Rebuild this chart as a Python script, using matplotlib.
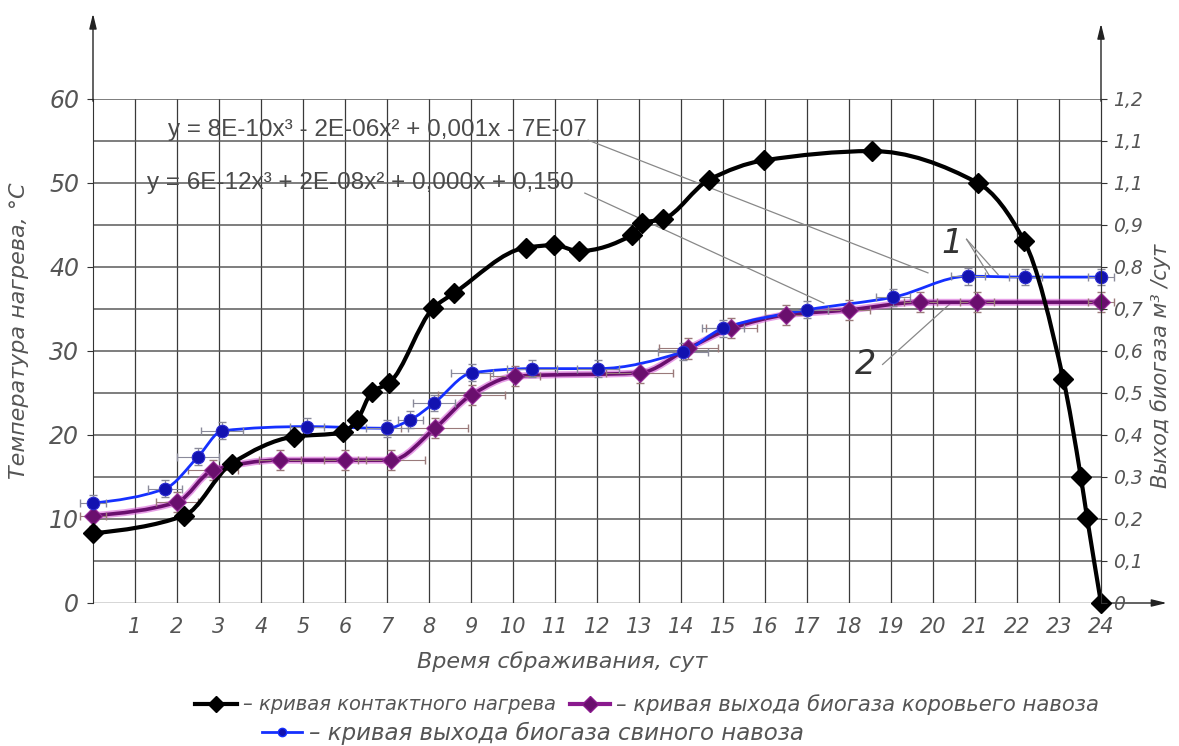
import numpy as np
import matplotlib
matplotlib.use('Agg')
import matplotlib.pyplot as plt
from matplotlib.path import Path
from matplotlib.patches import PathPatch
from matplotlib.lines import Line2D

# ---------------- data ----------------
heat_x = [0, 2.17, 3.3, 4.78, 5.95, 6.29, 6.64, 7.05, 8.1, 8.6, 10.3, 10.98, 11.57,
          12.83, 13.07, 13.57, 14.67, 15.98, 18.55, 21.07, 22.17, 23.1, 23.52, 23.67, 24]
heat_y = [8.3, 10.4, 16.6, 19.8, 20.3, 21.8, 25.1, 26.2, 35.1, 36.9, 42.3, 42.6, 41.9,
          43.8, 45.2, 45.7, 50.4, 52.7, 53.8, 50.0, 43.1, 26.7, 15.0, 10.1, 0]

cow_x = [0, 2.0, 2.86, 4.45, 6.0, 7.1, 8.14, 9.02, 10.05, 13.02, 14.17, 15.2, 16.5,
         18.0, 19.7, 21.05, 24]
cow_y = [10.4, 12.0, 15.8, 17.0, 17.0, 17.0, 20.8, 24.8, 27.0, 27.4, 30.3, 32.7, 34.3,
         34.9, 35.8, 35.8, 35.8]
cow_xerr = [0.3, 0.5, 0.6, 0.5, 0.5, 0.8, 0.8, 0.8, 0.6, 0.8, 0.7, 0.6, 0.5,
            0.5, 0.4, 0.4, 0.3]
cow_yerr = [1.2] * len(cow_x)

pig_x = [0, 1.71, 2.5, 3.08, 5.1, 7.0, 7.55, 8.12, 9.02, 10.45, 12.02, 14.05, 15.0,
         17.0, 19.05, 20.83, 22.2, 24]
pig_y = [11.9, 13.6, 17.4, 20.5, 21.0, 20.8, 21.8, 23.8, 27.4, 27.9, 27.9, 29.9, 32.7,
         34.9, 36.4, 38.9, 38.8, 38.8]
pig_xerr = [0.3, 0.4, 0.5, 0.5, 0.4, 0.5, 0.3, 0.5, 0.5, 0.6, 0.5, 0.6, 0.5,
            0.5, 0.4, 0.4, 0.4, 0.3]
pig_yerr = [1.0] * len(pig_x)

x_ticks = list(range(1, 25))
left_ticks = [0, 10, 20, 30, 40, 50, 60]
right_ticks = [0, 0.1, 0.2, 0.3, 0.4, 0.5, 0.6, 0.7, 0.8, 0.9, 1.0, 1.1, 1.2]
right_labels = ['0', '0,1', '0,2', '0,3', '0,4', '0,5', '0,6', '0,7', '0,8', '0,9',
                '1,1', '1,1', '1,2']

eq1 = 'y = 8E-10x³ - 2E-06x² + 0,001x - 7E-07'
eq2 = 'y = 6E-12x³ + 2E-08x² + 0,000x + 0,150'

leg_heat = '– кривая контактного нагрева'
leg_cow = '– кривая выхода биогаза коровьего навоза'
leg_pig = '– кривая выхода биогаза свиного навоза'

# ---------------- helpers ----------------
def smooth_path(x, y):
    x = np.asarray(x, float)
    y = np.asarray(y, float)
    n = len(x)
    h = np.diff(x)
    delta = np.diff(y) / h
    d = np.zeros(n)
    for k in range(1, n - 1):
        if delta[k - 1] * delta[k] <= 0:
            d[k] = 0.0
        else:
            w1 = 2 * h[k] + h[k - 1]
            w2 = h[k] + 2 * h[k - 1]
            d[k] = (w1 + w2) / (w1 / delta[k - 1] + w2 / delta[k])
    d[0] = delta[0] * 0.5
    d[-1] = delta[-1]
    verts = [(x[0], y[0])]
    codes = [Path.MOVETO]
    for k in range(n - 1):
        verts += [(x[k] + h[k] / 3, y[k] + d[k] * h[k] / 3),
                  (x[k + 1] - h[k] / 3, y[k + 1] - d[k + 1] * h[k] / 3),
                  (x[k + 1], y[k + 1])]
        codes += [Path.CURVE4] * 3
    return Path(verts, codes)


TFONT = ['DejaVu Sans']
TCOL = '#555555'

plt.rcParams['font.family'] = ['Liberation Sans', 'DejaVu Sans']

fig = plt.figure(figsize=(11.79, 7.46), dpi=100)
ax = fig.add_axes([93 / 1179, 143 / 746, 1008 / 1179, 504 / 746])
ax.set_xlim(0, 24)
ax.set_ylim(0, 60)

# grid
grid_col = '#3a3a3a'
for gx in range(1, 24):
    ax.axvline(gx, color=grid_col, lw=0.9, zorder=1)
for gy in range(5, 61, 5):
    ax.axhline(gy, color='#5a5a5a', lw=1.1, zorder=1)

for s in ['top', 'bottom']:
    ax.spines[s].set_visible(False)
ax.spines['left'].set_color('#333')
ax.spines['right'].set_color('#333')
ax.axhline(0, color='#333', lw=1.0, zorder=1)

# axis arrows
arrow_kw = dict(arrowstyle='-|>,head_length=0.9,head_width=0.22', color='#222', lw=1.0)
ax.annotate('', xy=(0, 1.175), xytext=(0, 0.99), xycoords='axes fraction',
            arrowprops=arrow_kw, annotation_clip=False)
ax.annotate('', xy=(1, 1.155), xytext=(1, 0.99), xycoords='axes fraction',
            arrowprops=arrow_kw, annotation_clip=False)
ax.annotate('', xy=(1.068, 0), xytext=(0.99, 0), xycoords='axes fraction',
            arrowprops=arrow_kw, annotation_clip=False)

# ticks
ax.set_xticks(x_ticks)
ax.set_xticklabels([str(v) for v in x_ticks])
ax.set_yticks(left_ticks)
ax.set_yticklabels([str(v) for v in left_ticks])
ax.tick_params(axis='x', length=0, pad=10)
ax.tick_params(axis='y', length=4, width=0.8, color='#333', pad=6)
for lab in ax.get_xticklabels():
    lab.set_fontfamily(TFONT); lab.set_fontstyle('italic'); lab.set_fontsize(15); lab.set_color(TCOL)
for lab in ax.get_yticklabels():
    lab.set_fontfamily(TFONT); lab.set_fontstyle('italic'); lab.set_fontsize(17); lab.set_color(TCOL)

ax2 = ax.twinx()
ax2.set_ylim(0, 1.2)
ax2.set_yticks(right_ticks)
ax2.set_yticklabels(right_labels)
ax2.tick_params(axis='y', length=4, width=0.8, color='#333', pad=5)
for s in ['top', 'bottom', 'left']:
    ax2.spines[s].set_visible(False)
ax2.spines['right'].set_color('#333')
for lab in ax2.get_yticklabels():
    lab.set_fontfamily(TFONT); lab.set_fontstyle('italic'); lab.set_fontsize(13.5); lab.set_color(TCOL)

ax.set_xlabel('Время сбраживания, сут', fontfamily=TFONT, fontstyle='italic',
              fontsize=16, color=TCOL, labelpad=6)
ax.xaxis.set_label_coords(0.465, -0.095)
ax.set_ylabel('Температура нагрева, °С', fontfamily=TFONT, fontstyle='italic',
              fontsize=16, color=TCOL)
ax.yaxis.set_label_coords(-0.063, 0.54)
ax2.set_ylabel('Выход биогаза м³ /сут', fontfamily=TFONT, fontstyle='italic',
               fontsize=15, color=TCOL, rotation=90)
ax2.yaxis.set_label_coords(1.049, 0.47)

# curves
ax.add_patch(PathPatch(smooth_path(cow_x, cow_y), fill=False, ec='#d24fd2', lw=5,
                       alpha=0.55, zorder=3))
ax.add_patch(PathPatch(smooth_path(cow_x, cow_y), fill=False, ec='#6a0f6e', lw=2.6,
                       zorder=4, capstyle='round'))
ax.add_patch(PathPatch(smooth_path(pig_x, pig_y), fill=False, ec='#1530ff', lw=2.0,
                       zorder=5, capstyle='round'))
ax.add_patch(PathPatch(smooth_path(heat_x, heat_y), fill=False, ec='black', lw=3.0,
                       zorder=6, capstyle='round', clip_on=False))

ax.errorbar(cow_x, cow_y, xerr=cow_xerr, yerr=cow_yerr, fmt='none', ecolor='#9a7a7a',
            elinewidth=0.8, capsize=3, zorder=4.5, clip_on=False)
ax.errorbar(pig_x, pig_y, xerr=pig_xerr, yerr=pig_yerr, fmt='none', ecolor='#8a8a9a',
            elinewidth=0.8, capsize=3, zorder=5.5, clip_on=False)

ax.plot(cow_x, cow_y, ls='none', marker='D', ms=9, mfc='#6a0f6e', mec='#9a309a',
        mew=0.8, zorder=7, clip_on=False)
ax.plot(pig_x, pig_y, ls='none', marker='o', ms=9, mfc='#1212b0', mec='#2a2ad0',
        mew=0.8, zorder=7.5, clip_on=False)
ax.plot(heat_x, heat_y, ls='none', marker='D', ms=10, mfc='black', mec='black',
        zorder=8, clip_on=False)

# equations
ax.text(1.79, 56.3, eq1, fontsize=17.5, color='#4a4a4a', va='center', ha='left', zorder=9,
        fontfamily=['Liberation Sans', 'DejaVu Sans'])
ax.text(1.29, 50.0, eq2, fontsize=17.5, color='#4a4a4a', va='center', ha='left', zorder=9,
        fontfamily=['Liberation Sans', 'DejaVu Sans'])

# leader lines
lead_col = '#888888'
ax.plot([11.79, 19.88], [55.1, 39.3], color=lead_col, lw=0.9, zorder=2)
ax.plot([11.71, 17.4], [48.8, 35.7], color=lead_col, lw=0.9, zorder=2)
ax.text(20.45, 42.8, '1', fontsize=24, fontstyle='italic', fontfamily=TFONT, color='#333',
        ha='center', va='center', zorder=9)
ax.plot([20.8, 21.35], [43.3, 38.9], color=lead_col, lw=0.9, zorder=2)
ax.plot([20.8, 21.55], [43.3, 39.1], color=lead_col, lw=0.9, zorder=2)
ax.text(18.4, 28.4, '2', fontsize=24, fontstyle='italic', fontfamily=TFONT, color='#333',
        ha='center', va='center', zorder=9)
ax.plot([18.8, 20.4], [28.4, 35.6], color=lead_col, lw=0.9, zorder=2)

# legend entries
h_heat = Line2D([], [], color='black', lw=3, marker='D', ms=8)
h_cow = Line2D([], [], color='#8a1a8e', lw=3, marker='D', ms=8, mfc='#6a0f6e')
h_pig = Line2D([], [], color='#1530ff', lw=2, marker='o', ms=6, mfc='#1212b0')


def add_entry(handle, label, x_px, y_px, size, hlen_px):
    em = size * 100 / 72
    lg = fig.legend([handle], [label], loc='center left',
                    bbox_to_anchor=(x_px / 1179, 1 - y_px / 746), frameon=False,
                    prop=dict(family=TFONT, style='italic', size=size),
                    handlelength=hlen_px / em, handletextpad=0.3, borderpad=0,
                    borderaxespad=0)
    for t in lg.get_texts():
        t.set_color(TCOL)
    return lg


add_entry(h_heat, leg_heat, 195, 705, 14, 42)
add_entry(h_cow, leg_cow, 570, 705, 15.2, 40)
add_entry(h_pig, leg_pig, 262, 733, 16.5, 40)

fig.savefig('out.png', dpi=100)
